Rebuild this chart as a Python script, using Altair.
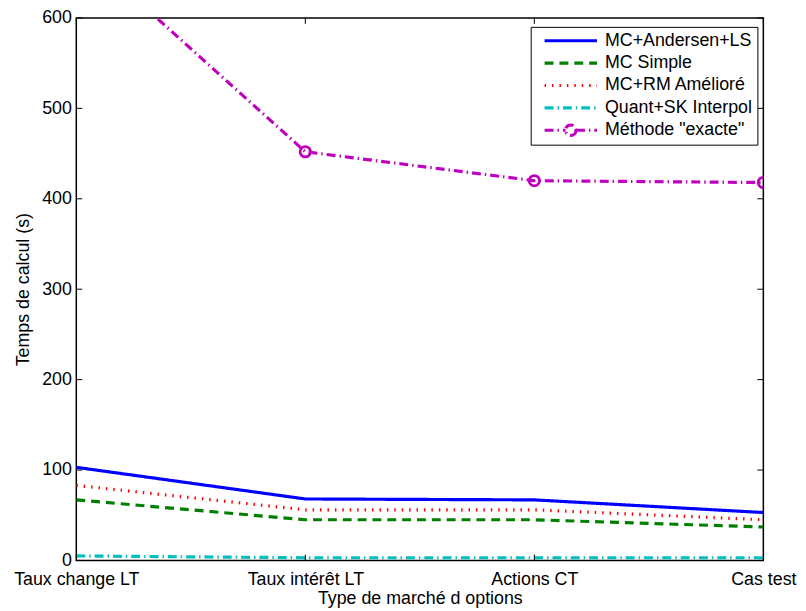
import altair as alt
import pandas as pd

categories = ["Taux change LT", "Taux intérêt LT", "Actions CT", "Cas test"]
series_names = ["MC+Andersen+LS", "MC Simple", "MC+RM Amélioré", "Quant+SK Interpol", 'Méthode "exacte"']
andersen = [103, 68, 67, 53]
simple = [67, 45, 45, 37]
rm_ameliore = [83, 56, 56, 45]
quant_sk = [5, 3, 3, 3]
exacte = [680, 452, 420, 418]
y_ticks = [0, 100, 200, 300, 400, 500, 600]

colors = ["#0000ff", "#008000", "#ff0000", "#00bfbf", "#bf00bf"]
dashes = [[1, 0], [9, 6], [1.5, 6], [9, 4, 1.5, 4], [9, 4, 1.5, 4]]
widths = [3.2, 3.2, 1.6, 3.2, 3.2]
LINE_PATH = "M-1,0H1"
MARKER_PATH = ("M-1,0H-0.2M0.2,0H1M0.2,0A0.2,0.2 0 1 1 -0.2,0A0.2,0.2 0 1 1 0.2,0")
shapes = [LINE_PATH, LINE_PATH, LINE_PATH, LINE_PATH, MARKER_PATH]

rows = []
for name, vals in zip(series_names, [andersen, simple, rm_ameliore, quant_sk, exacte]):
    for c, v in zip(categories, vals):
        rows.append({"cat": c, "val": v, "serie": name})
df = pd.DataFrame(rows)

W, H = 694, 548
FONT = "Liberation Sans"
FS = 18

xscale = alt.Scale(type="point", domain=categories, padding=0)
yscale = alt.Scale(domain=[0, 600], nice=False)

legend = alt.Legend(
    title=None, orient="none", legendX=459, legendY=9,
    symbolSize=2800, symbolOffset=7, clipHeight=18, symbolOpacity=1,
    symbolFillColor="transparent",
    fillColor="white", strokeColor="black", padding=5,
    labelFontSize=FS, labelFont=FONT, labelColor="black",
    labelOffset=6, rowPadding=4.6, labelLimit=300)

color_enc = alt.Color("serie:N", scale=alt.Scale(domain=series_names, range=colors), legend=legend)
dash_enc = alt.StrokeDash("serie:N", scale=alt.Scale(domain=series_names, range=dashes), legend=legend)
width_enc = alt.StrokeWidth("serie:N", scale=alt.Scale(domain=series_names, range=widths), legend=legend)

lines = alt.Chart(df).mark_line(clip=True).encode(
    x=alt.X("cat:N", scale=xscale, sort=categories,
            axis=alt.Axis(title="Type de marché d options", labelAngle=0, ticks=False,
                          domain=False, grid=False, labelPadding=10, titlePadding=1)),
    y=alt.Y("val:Q", scale=yscale,
            axis=alt.Axis(title="Temps de calcul (s)", values=y_ticks, ticks=False,
                          domain=False, grid=False, labelPadding=5, titlePadding=9)),
    color=color_enc,
    strokeDash=dash_enc,
    strokeWidth=width_enc,
)

legend_keys = alt.Chart(df).mark_point(opacity=0, filled=False, clip=True).encode(
    x=alt.X("cat:N", scale=xscale, sort=categories),
    y=alt.Y("val:Q", scale=yscale),
    color=color_enc,
    shape=alt.Shape("serie:N", scale=alt.Scale(domain=series_names, range=shapes), legend=legend),
    strokeDash=dash_enc,
    strokeWidth=width_enc,
)

points = alt.Chart(df).transform_filter(alt.datum.serie == series_names[4]).mark_point(
    clip=True, filled=False, size=110, strokeWidth=2.8, color="#bf00bf", opacity=1
).encode(
    x=alt.X("cat:N", scale=xscale, sort=categories),
    y=alt.Y("val:Q", scale=yscale),
)

ytick_df = pd.DataFrame({"v": y_ticks})
xtick_df = pd.DataFrame({"c": categories})
yt_left = alt.Chart(ytick_df).mark_rule(color="black", strokeWidth=1).encode(
    y=alt.Y("v:Q", scale=yscale), x=alt.value(0), x2=alt.value(6))
yt_right = alt.Chart(ytick_df).mark_rule(color="black", strokeWidth=1).encode(
    y=alt.Y("v:Q", scale=yscale), x=alt.value(W - 6), x2=alt.value(W))
xt_bot = alt.Chart(xtick_df).mark_rule(color="black", strokeWidth=1).encode(
    x=alt.X("c:N", scale=xscale, sort=categories), y=alt.value(H), y2=alt.value(H - 6))
xt_top = alt.Chart(xtick_df).mark_rule(color="black", strokeWidth=1).encode(
    x=alt.X("c:N", scale=xscale, sort=categories), y=alt.value(0), y2=alt.value(6))

chart = alt.layer(lines, legend_keys, points, yt_left, yt_right, xt_bot, xt_top).properties(
    width=W, height=H,
    autosize=alt.AutoSizeParams(type="none"),
    padding={"left": 69, "top": 7, "right": 35, "bottom": 48},
).configure_view(
    stroke="black", strokeWidth=1.5
).configure_axis(
    labelFont=FONT, titleFont=FONT, labelFontSize=FS, titleFontSize=FS,
    labelColor="black", titleColor="black", titleFontWeight="normal"
)

chart.save("out.html", embed_options={"renderer": "svg", "actions": False})
